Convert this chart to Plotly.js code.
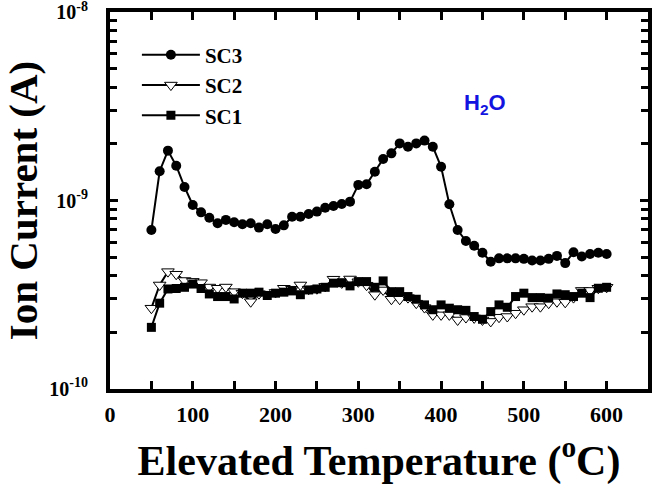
<!DOCTYPE html>
<html>
<head>
<meta charset="utf-8">
<script src="https://cdn.plot.ly/plotly-3.0.1.min.js"></script>
<style>
  html, body { margin: 0; padding: 0; background: #fff; }
  #chart { width: 656px; height: 503px; }
</style>
</head>
<body>
<div id="chart"></div>
<script>
// Temperature steps (deg C)
const temperature = [50, 60, 70, 80, 90, 100, 110, 120, 130, 140, 150, 160, 170, 180, 190, 200,
  210, 220, 230, 240, 250, 260, 270, 280, 290, 300, 310, 320, 330, 340, 350, 360, 370, 380,
  390, 400, 410, 420, 430, 440, 450, 460, 470, 480, 490, 500, 510, 520, 530, 540, 550, 560,
  570, 580, 590, 600];

// Ion current (A) for each sample
const sc3 = [6.97e-10, 1.43e-9, 1.84e-9, 1.53e-9, 1.18e-9, 9.46e-10, 8.65e-10, 8.10e-10, 7.57e-10,
  7.89e-10, 7.66e-10, 7.48e-10, 7.57e-10, 7.18e-10, 7.48e-10, 7.06e-10, 7.38e-10, 8.20e-10,
  8.20e-10, 8.47e-10, 8.73e-10, 9.16e-10, 9.35e-10, 9.58e-10, 9.86e-10, 1.21e-9, 1.22e-9,
  1.42e-9, 1.66e-9, 1.78e-9, 2.01e-9, 1.93e-9, 2.01e-9, 2.08e-9, 1.93e-9, 1.51e-9, 9.55e-10,
  6.97e-10, 6.09e-10, 5.75e-10, 5.28e-10, 4.73e-10, 4.93e-10, 4.93e-10, 4.93e-10, 4.90e-10,
  4.80e-10, 4.80e-10, 4.90e-10, 5.08e-10, 4.65e-10, 5.31e-10, 5.04e-10, 5.20e-10, 5.28e-10,
  5.20e-10];

const sc2 = [2.68e-10, 3.56e-10, 4.19e-10, 4.06e-10, 3.76e-10, 3.72e-10, 3.66e-10, 3.47e-10,
  3.42e-10, 3.47e-10, 3.28e-10, 3.22e-10, 2.90e-10, 3.20e-10, 3.18e-10, 3.25e-10, 3.42e-10,
  3.38e-10, 3.56e-10, 3.38e-10, 3.40e-10, 3.50e-10, 3.82e-10, 3.65e-10, 3.83e-10, 3.70e-10,
  3.55e-10, 3.16e-10, 3.35e-10, 2.99e-10, 2.99e-10, 3.05e-10, 2.85e-10, 2.70e-10, 2.47e-10,
  2.47e-10, 2.47e-10, 2.32e-10, 2.39e-10, 2.38e-10, 2.32e-10, 2.28e-10, 2.40e-10, 2.42e-10,
  2.52e-10, 2.63e-10, 2.73e-10, 2.73e-10, 2.85e-10, 2.90e-10, 2.88e-10, 3.05e-10, 3.33e-10,
  3.33e-10, 3.42e-10, 3.46e-10];

const sc1 = [2.12e-10, 2.85e-10, 3.39e-10, 3.41e-10, 3.46e-10, 3.60e-10, 3.41e-10, 3.19e-10,
  3.09e-10, 3.09e-10, 3.00e-10, 3.22e-10, 3.22e-10, 3.26e-10, 3.13e-10, 3.22e-10, 3.26e-10,
  3.31e-10, 3.16e-10, 3.35e-10, 3.39e-10, 3.46e-10, 3.64e-10, 3.66e-10, 3.52e-10, 3.71e-10,
  3.71e-10, 3.46e-10, 3.74e-10, 3.28e-10, 3.28e-10, 3.09e-10, 2.99e-10, 2.79e-10, 2.63e-10,
  2.79e-10, 2.68e-10, 2.63e-10, 2.61e-10, 2.42e-10, 2.34e-10, 2.57e-10, 2.79e-10, 2.71e-10,
  3.09e-10, 3.22e-10, 3.05e-10, 3.05e-10, 3.03e-10, 3.19e-10, 3.16e-10, 3.09e-10, 3.22e-10,
  3.05e-10, 3.42e-10, 3.46e-10];

// Axis ticks
const xTickVals = [0, 100, 200, 300, 400, 500, 600];
const xTickText = ['0', '100', '200', '300', '400', '500', '600'];
const yTickVals = [1e-10, 1e-9, 1e-8];
const yTickText = ['10<sup>-10</sup>', '10<sup>-9</sup>', '10<sup>-8</sup>'];

const X_MIN = 0, X_MAX = 650;
const Y_MIN = 1e-10, Y_MAX = 1e-8;

const serif = 'Liberation Serif, Times New Roman, serif';

const traces = [
  {
    x: temperature, y: sc3, name: 'SC3', type: 'scatter', mode: 'lines+markers',
    line: { color: '#000', width: 2 },
    marker: { symbol: 'circle', size: 10, color: '#000' },
    legendrank: 1
  },
  {
    x: temperature, y: sc2, name: 'SC2', type: 'scatter', mode: 'lines+markers',
    line: { color: '#000', width: 2 },
    marker: { symbol: 'triangle-down', size: 11, color: '#fff', line: { color: '#000', width: 1 } },
    legendrank: 2
  },
  {
    x: temperature, y: sc1, name: 'SC1', type: 'scatter', mode: 'lines+markers',
    line: { color: '#000', width: 2 },
    marker: { symbol: 'square', size: 9, color: '#000' },
    legendrank: 3
  }
];

const layout = {
  width: 656,
  height: 503,
  margin: { l: 110, r: 8, t: 12, b: 114 },
  paper_bgcolor: '#fff',
  plot_bgcolor: '#fff',
  showlegend: true,
  legend: {
    x: 0.05, y: 0.94, xanchor: 'left', yanchor: 'top',
    bgcolor: 'rgba(0,0,0,0)',
    itemwidth: 58,
    font: { family: serif, size: 21, weight: 'bold', color: '#000' },
    tracegroupgap: 0
  },
  xaxis: {
    range: [X_MIN, X_MAX],
    showgrid: false, zeroline: false,
    showline: true, linecolor: '#000', linewidth: 4, mirror: 'allticks',
    ticks: 'inside', ticklen: 8, tickwidth: 3, tickcolor: '#000',
    tickmode: 'array', tickvals: xTickVals, ticktext: xTickText,
    minor: { ticks: 'inside', ticklen: 8, tickwidth: 3, tickcolor: '#000', dtick: 50, showgrid: false },
    ticklabelstandoff: 3,
    tickfont: { family: serif, size: 22, weight: 'bold', color: '#000' },
    title: {
      text: 'Elevated Temperature (<sup>o</sup>C)',
      font: { family: serif, size: 42, weight: 'bold', color: '#000' },
      standoff: 20
    }
  },
  yaxis: {
    type: 'log',
    range: [Math.log10(Y_MIN) - 0.001, Math.log10(Y_MAX) + 0.001],
    showgrid: false, zeroline: false,
    showline: true, linecolor: '#000', linewidth: 4, mirror: 'allticks',
    ticks: 'inside', ticklen: 8, tickwidth: 3, tickcolor: '#000',
    tickmode: 'array', tickvals: yTickVals, ticktext: yTickText,
    minor: { ticks: 'inside', ticklen: 7, tickwidth: 3, tickcolor: '#000', dtick: 'D1', showgrid: false },
    ticklabelstandoff: 14,
    ticklabeloverflow: 'allow',
    tickfont: { family: serif, size: 20, weight: 'bold', color: '#000' },
    title: {
      text: 'Ion Current (A)',
      font: { family: serif, size: 41, weight: 'bold', color: '#000' },
      standoff: 8
    }
  },
  annotations: [
    {
      xref: 'paper', yref: 'paper', x: 0.697, y: 0.755,
      xanchor: 'center', yanchor: 'middle', showarrow: false,
      text: 'H<sub>2</sub>O',
      font: { family: 'Liberation Sans, Arial, sans-serif', size: 22, weight: 'bold', color: '#1414e0' }
    }
  ]
};

Plotly.newPlot('chart', traces, layout, { staticPlot: true, displayModeBar: false });
</script>
</body>
</html>
